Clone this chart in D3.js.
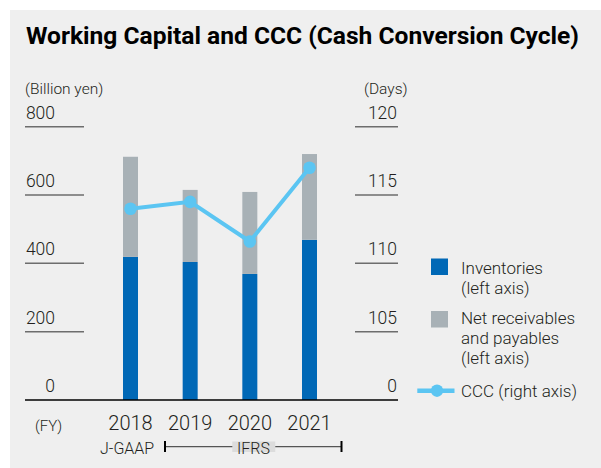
<!DOCTYPE html>
<html><head><meta charset="utf-8">
<script src="https://cdn.jsdelivr.net/npm/d3@7"></script>
<style>
html,body{margin:0;padding:0;background:#fff;}
svg{display:block;}
text{font-family:Roboto,"Liberation Sans",Arial,sans-serif;}
</style></head>
<body>
<svg id="chart" width="601" height="468"></svg>
<script>
const years = ["2018","2019","2020","2021"];
const inventories = [419, 404, 369, 469];
const netReceivables = [293, 211, 240, 251];
const ccc = [114.0, 114.5, 111.6, 117.0];
const leftTicks = [0, 200, 400, 600, 800];
const rightTicks = [100, 105, 110, 115, 120];
const rightTickLabels = ["0", "105", "110", "115", "120"];
const legendItems = [
  {label:["Inventories","(left axis)"], type:"rect", color:"#0068b6"},
  {label:["Net receivables","and payables","(left axis)"], type:"rect", color:"#a8b1b6"},
  {label:["CCC (right axis)"], type:"line", color:"#5bc5f2"}
];

const svg = d3.select("#chart");
const C_INV = "#0068b6", C_NET = "#a8b1b6", C_LINE = "#5bc5f2", TXT = "#231f20";

// panel
svg.append("rect").attr("x",10).attr("y",10).attr("width",591).attr("height",458).attr("fill","#efefef");

// title
svg.append("text").attr("x",26).attr("y",44)
  .attr("font-size",24).attr("font-weight",700).attr("fill","#000")
  .attr("textLength",553).attr("lengthAdjust","spacingAndGlyphs")
  .text("Working Capital and CCC (Cash Conversion Cycle)");

const x = d3.scalePoint().domain(years).range([130.5, 309.5]);
const yL = d3.scaleLinear().domain([0,800]).range([400,126.7]);
const yR = d3.scaleLinear().domain([100,120]).range([400,126.7]);

// left axis unit
svg.append("text").attr("x",25).attr("y",94).attr("font-size",15.5).attr("font-weight",300).attr("fill",TXT).text("(Billion yen)");
svg.append("text").attr("x",364).attr("y",94).attr("font-size",15.5).attr("font-weight",300).attr("fill",TXT).text("(Days)");

// left ticks
const lt = svg.append("g");
leftTicks.forEach(v=>{
  if(v>0) lt.append("line").attr("x1",25).attr("x2",84).attr("y1",yL(v)).attr("y2",yL(v)).attr("stroke","#6d6d6d").attr("stroke-width",1.5);
  lt.append("text").attr("x",55).attr("y",yL(v)-8).attr("text-anchor","end").attr("font-size",17.5).attr("font-weight",300).attr("fill",TXT).text(d3.format("d")(v));
});
// right ticks
const rt = svg.append("g");
rightTicks.forEach((v,i)=>{
  if(v>100) rt.append("line").attr("x1",355).attr("x2",398).attr("y1",yR(v)).attr("y2",yR(v)).attr("stroke","#6d6d6d").attr("stroke-width",1.5);
  rt.append("text").attr("x",397).attr("y",yR(v)-8).attr("text-anchor","end").attr("font-size",17.5).attr("font-weight",300).attr("fill",TXT).text(rightTickLabels[i]);
});

// bars
const bw = 15;
const data = years.map((y,i)=>({year:y, inv:inventories[i], net:netReceivables[i], ccc:ccc[i]}));
svg.append("g").selectAll("rect.inv").data(data).join("rect")
  .attr("x",d=>x(d.year)-bw/2).attr("width",bw)
  .attr("y",d=>yL(d.inv)).attr("height",d=>yL(0)-yL(d.inv)).attr("fill",C_INV);
svg.append("g").selectAll("rect.net").data(data).join("rect")
  .attr("x",d=>x(d.year)-bw/2).attr("width",bw)
  .attr("y",d=>yL(d.inv+d.net)).attr("height",d=>yL(d.inv)-yL(d.inv+d.net)).attr("fill",C_NET);

// baseline
svg.append("line").attr("x1",25).attr("x2",398).attr("y1",400).attr("y2",400).attr("stroke","#000").attr("stroke-width",1.5);

// CCC line
const line = d3.line().x(d=>x(d.year)).y(d=>yR(d.ccc));
svg.append("path").datum(data).attr("d",line).attr("fill","none").attr("stroke",C_LINE).attr("stroke-width",4);
svg.append("g").selectAll("circle").data(data).join("circle")
  .attr("cx",d=>x(d.year)).attr("cy",d=>yR(d.ccc)).attr("r",6.3).attr("fill",C_LINE);

// x labels
svg.append("text").attr("x",35).attr("y",431).attr("font-size",15).attr("font-weight",300).attr("fill",TXT).text("(FY)");
svg.append("g").selectAll("text").data(years).join("text")
  .attr("x",d=>x(d)).attr("y",430).attr("text-anchor","middle").attr("font-size",20).attr("font-weight",300).attr("fill",TXT).text(d=>d);

// accounting standards bracket
svg.append("text").attr("x",100).attr("y",454).attr("font-size",16).attr("font-weight",300).attr("fill",TXT).text("J-GAAP");
svg.append("line").attr("x1",165).attr("x2",341.5).attr("y1",446.7).attr("y2",446.7).attr("stroke","#555").attr("stroke-width",1.3);
[165, 341.5].forEach(xx=>svg.append("line").attr("x1",xx).attr("x2",xx).attr("y1",441).attr("y2",452).attr("stroke","#000").attr("stroke-width",2));
svg.append("rect").attr("x",232.3).attr("y",441.5).attr("width",43).attr("height",10.5).attr("fill","#dcdcdc");
svg.append("text").attr("x",253.5).attr("y",454).attr("text-anchor","middle").attr("font-size",16).attr("font-weight",300).attr("fill",TXT).text("IFRS");

// legend
const legY = [258.5, 311, 390.7];
const legTextY = [274, 323.5, 397];
legendItems.forEach((it,i)=>{
  if(it.type==="rect"){
    svg.append("rect").attr("x",431).attr("y",legY[i]).attr("width",17).attr("height",16.5).attr("fill",it.color);
  } else {
    svg.append("line").attr("x1",417.3).attr("x2",454.5).attr("y1",legY[i]).attr("y2",legY[i]).attr("stroke",it.color).attr("stroke-width",4.5);
    svg.append("circle").attr("cx",437).attr("cy",legY[i]).attr("r",6.2).attr("fill",it.color);
  }
  it.label.forEach((t,j)=>{
    svg.append("text").attr("x",461).attr("y",legTextY[i]+j*20.4).attr("font-size",17).attr("font-weight",300).attr("fill",TXT).text(t);
  });
});
</script>
</body></html>
